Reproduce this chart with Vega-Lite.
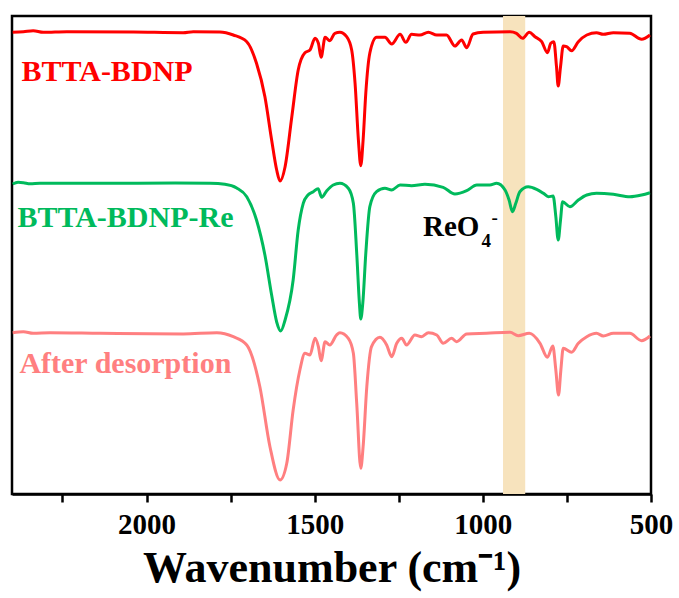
{
  "$schema": "https://vega.github.io/schema/vega-lite/v6.json",
  "width": 639,
  "height": 478,
  "autosize": "none",
  "padding": {"left": 12, "top": 16, "right": 28, "bottom": 104},
  "background": "white",
  "config": {
    "view": {"stroke": "black", "strokeWidth": 2.5},
    "axis": {"grid": false}
  },
  "datasets": {
    "spectra": [
      {"s":"BTTA-BDNP","wn":2398,"t":461.7},{"s":"BTTA-BDNP","wn":2366,"t":462.3},{"s":"BTTA-BDNP","wn":2337,"t":463.3},{"s":"BTTA-BDNP","wn":2307,"t":461.7},{"s":"BTTA-BDNP","wn":2237,"t":462.3},{"s":"BTTA-BDNP","wn":2039,"t":462},{"s":"BTTA-BDNP","wn":1891,"t":461.3},{"s":"BTTA-BDNP","wn":1861,"t":462.3},{"s":"BTTA-BDNP","wn":1782,"t":462},{"s":"BTTA-BDNP","wn":1742,"t":459},{"s":"BTTA-BDNP","wn":1702,"t":452.3},{"s":"BTTA-BDNP","wn":1673,"t":430.7},{"s":"BTTA-BDNP","wn":1648,"t":397.3},{"s":"BTTA-BDNP","wn":1628,"t":354},{"s":"BTTA-BDNP","wn":1613,"t":324},{"s":"BTTA-BDNP","wn":1603,"t":313},{"s":"BTTA-BDNP","wn":1588,"t":327.3},{"s":"BTTA-BDNP","wn":1568,"t":377.3},{"s":"BTTA-BDNP","wn":1549,"t":424},{"s":"BTTA-BDNP","wn":1529,"t":441.3},{"s":"BTTA-BDNP","wn":1514,"t":444},{"s":"BTTA-BDNP","wn":1499,"t":455.7},{"s":"BTTA-BDNP","wn":1489,"t":450.7},{"s":"BTTA-BDNP","wn":1481,"t":436.7},{"s":"BTTA-BDNP","wn":1469,"t":456.7},{"s":"BTTA-BDNP","wn":1455,"t":453.3},{"s":"BTTA-BDNP","wn":1440,"t":460.7},{"s":"BTTA-BDNP","wn":1425,"t":461.7},{"s":"BTTA-BDNP","wn":1405,"t":457.3},{"s":"BTTA-BDNP","wn":1390,"t":444},{"s":"BTTA-BDNP","wn":1380,"t":411},{"s":"BTTA-BDNP","wn":1370,"t":354},{"s":"BTTA-BDNP","wn":1363,"t":328.3},{"s":"BTTA-BDNP","wn":1356,"t":354},{"s":"BTTA-BDNP","wn":1348,"t":401},{"s":"BTTA-BDNP","wn":1336,"t":441},{"s":"BTTA-BDNP","wn":1316,"t":456.7},{"s":"BTTA-BDNP","wn":1291,"t":456.7},{"s":"BTTA-BDNP","wn":1271,"t":450},{"s":"BTTA-BDNP","wn":1246,"t":459.7},{"s":"BTTA-BDNP","wn":1229,"t":451.7},{"s":"BTTA-BDNP","wn":1212,"t":459.7},{"s":"BTTA-BDNP","wn":1187,"t":459},{"s":"BTTA-BDNP","wn":1162,"t":461.7},{"s":"BTTA-BDNP","wn":1137,"t":459},{"s":"BTTA-BDNP","wn":1108,"t":459},{"s":"BTTA-BDNP","wn":1083,"t":448},{"s":"BTTA-BDNP","wn":1063,"t":454},{"s":"BTTA-BDNP","wn":1048,"t":446.3},{"s":"BTTA-BDNP","wn":1029,"t":460},{"s":"BTTA-BDNP","wn":999,"t":461.7},{"s":"BTTA-BDNP","wn":919,"t":462.3},{"s":"BTTA-BDNP","wn":900,"t":460.7},{"s":"BTTA-BDNP","wn":882,"t":455.7},{"s":"BTTA-BDNP","wn":862,"t":461.7},{"s":"BTTA-BDNP","wn":845,"t":457.3},{"s":"BTTA-BDNP","wn":825,"t":452.3},{"s":"BTTA-BDNP","wn":808,"t":441.3},{"s":"BTTA-BDNP","wn":798,"t":450.7},{"s":"BTTA-BDNP","wn":789,"t":452.3},{"s":"BTTA-BDNP","wn":781,"t":427.3},{"s":"BTTA-BDNP","wn":776,"t":408},{"s":"BTTA-BDNP","wn":769,"t":427.3},{"s":"BTTA-BDNP","wn":761,"t":448},{"s":"BTTA-BDNP","wn":751,"t":447.3},{"s":"BTTA-BDNP","wn":736,"t":443.3},{"s":"BTTA-BDNP","wn":716,"t":452.3},{"s":"BTTA-BDNP","wn":691,"t":459},{"s":"BTTA-BDNP","wn":662,"t":461.3},{"s":"BTTA-BDNP","wn":642,"t":459.7},{"s":"BTTA-BDNP","wn":612,"t":461.3},{"s":"BTTA-BDNP","wn":563,"t":460.7},{"s":"BTTA-BDNP","wn":528,"t":454.7},{"s":"BTTA-BDNP","wn":503,"t":459},
      {"s":"BTTA-BDNP-Re","wn":2398,"t":310},{"s":"BTTA-BDNP-Re","wn":2382,"t":311.7},{"s":"BTTA-BDNP-Re","wn":2366,"t":311.3},{"s":"BTTA-BDNP-Re","wn":2346,"t":310.3},{"s":"BTTA-BDNP-Re","wn":2317,"t":310.7},{"s":"BTTA-BDNP-Re","wn":2138,"t":310.7},{"s":"BTTA-BDNP-Re","wn":1915,"t":311},{"s":"BTTA-BDNP-Re","wn":1811,"t":310.7},{"s":"BTTA-BDNP-Re","wn":1767,"t":309.7},{"s":"BTTA-BDNP-Re","wn":1732,"t":306},{"s":"BTTA-BDNP-Re","wn":1702,"t":297.3},{"s":"BTTA-BDNP-Re","wn":1673,"t":274},{"s":"BTTA-BDNP-Re","wn":1648,"t":239},{"s":"BTTA-BDNP-Re","wn":1628,"t":199},{"s":"BTTA-BDNP-Re","wn":1613,"t":172},{"s":"BTTA-BDNP-Re","wn":1601,"t":163},{"s":"BTTA-BDNP-Re","wn":1588,"t":174},{"s":"BTTA-BDNP-Re","wn":1564,"t":214},{"s":"BTTA-BDNP-Re","wn":1549,"t":264},{"s":"BTTA-BDNP-Re","wn":1534,"t":290.7},{"s":"BTTA-BDNP-Re","wn":1520,"t":299},{"s":"BTTA-BDNP-Re","wn":1504,"t":302.3},{"s":"BTTA-BDNP-Re","wn":1490,"t":305.3},{"s":"BTTA-BDNP-Re","wn":1479,"t":296.7},{"s":"BTTA-BDNP-Re","wn":1464,"t":303.3},{"s":"BTTA-BDNP-Re","wn":1445,"t":309},{"s":"BTTA-BDNP-Re","wn":1425,"t":310.7},{"s":"BTTA-BDNP-Re","wn":1400,"t":305.7},{"s":"BTTA-BDNP-Re","wn":1385,"t":290.7},{"s":"BTTA-BDNP-Re","wn":1375,"t":240.7},{"s":"BTTA-BDNP-Re","wn":1367,"t":190.7},{"s":"BTTA-BDNP-Re","wn":1363,"t":175},{"s":"BTTA-BDNP-Re","wn":1357,"t":190.7},{"s":"BTTA-BDNP-Re","wn":1348,"t":240.7},{"s":"BTTA-BDNP-Re","wn":1336,"t":287.3},{"s":"BTTA-BDNP-Re","wn":1316,"t":302.3},{"s":"BTTA-BDNP-Re","wn":1291,"t":305.7},{"s":"BTTA-BDNP-Re","wn":1271,"t":304},{"s":"BTTA-BDNP-Re","wn":1246,"t":309},{"s":"BTTA-BDNP-Re","wn":1212,"t":308.3},{"s":"BTTA-BDNP-Re","wn":1172,"t":309.7},{"s":"BTTA-BDNP-Re","wn":1118,"t":306.7},{"s":"BTTA-BDNP-Re","wn":1083,"t":300},{"s":"BTTA-BDNP-Re","wn":1048,"t":303.3},{"s":"BTTA-BDNP-Re","wn":1018,"t":309},{"s":"BTTA-BDNP-Re","wn":979,"t":309},{"s":"BTTA-BDNP-Re","wn":959,"t":310.7},{"s":"BTTA-BDNP-Re","wn":934,"t":304},{"s":"BTTA-BDNP-Re","wn":922,"t":294},{"s":"BTTA-BDNP-Re","wn":912,"t":282.3},{"s":"BTTA-BDNP-Re","wn":902,"t":290.7},{"s":"BTTA-BDNP-Re","wn":890,"t":302.3},{"s":"BTTA-BDNP-Re","wn":865,"t":307.3},{"s":"BTTA-BDNP-Re","wn":840,"t":304.7},{"s":"BTTA-BDNP-Re","wn":820,"t":300.7},{"s":"BTTA-BDNP-Re","wn":805,"t":297.3},{"s":"BTTA-BDNP-Re","wn":791,"t":298},{"s":"BTTA-BDNP-Re","wn":783,"t":277.3},{"s":"BTTA-BDNP-Re","wn":776,"t":254},{"s":"BTTA-BDNP-Re","wn":769,"t":274},{"s":"BTTA-BDNP-Re","wn":763,"t":292.3},{"s":"BTTA-BDNP-Re","wn":741,"t":287.3},{"s":"BTTA-BDNP-Re","wn":716,"t":294},{"s":"BTTA-BDNP-Re","wn":691,"t":299},{"s":"BTTA-BDNP-Re","wn":662,"t":300.7},{"s":"BTTA-BDNP-Re","wn":612,"t":299.7},{"s":"BTTA-BDNP-Re","wn":563,"t":297.3},{"s":"BTTA-BDNP-Re","wn":528,"t":299},{"s":"BTTA-BDNP-Re","wn":503,"t":301.3},
      {"s":"After desorption","wn":2398,"t":161.3},{"s":"After desorption","wn":2366,"t":162.3},{"s":"After desorption","wn":2337,"t":160.7},{"s":"After desorption","wn":2287,"t":161.3},{"s":"After desorption","wn":2138,"t":160.7},{"s":"After desorption","wn":1891,"t":160},{"s":"After desorption","wn":1791,"t":161.3},{"s":"After desorption","wn":1742,"t":157.3},{"s":"After desorption","wn":1702,"t":149},{"s":"After desorption","wn":1663,"t":107.3},{"s":"After desorption","wn":1633,"t":47.3},{"s":"After desorption","wn":1603,"t":14},{"s":"After desorption","wn":1583,"t":30.7},{"s":"After desorption","wn":1564,"t":84},{"s":"After desorption","wn":1544,"t":124},{"s":"After desorption","wn":1529,"t":140.7},{"s":"After desorption","wn":1514,"t":139},{"s":"After desorption","wn":1499,"t":155.7},{"s":"After desorption","wn":1489,"t":147.3},{"s":"After desorption","wn":1481,"t":133.3},{"s":"After desorption","wn":1469,"t":152.3},{"s":"After desorption","wn":1455,"t":149},{"s":"After desorption","wn":1435,"t":159},{"s":"After desorption","wn":1425,"t":161.3},{"s":"After desorption","wn":1400,"t":155.7},{"s":"After desorption","wn":1385,"t":140.7},{"s":"After desorption","wn":1375,"t":90.7},{"s":"After desorption","wn":1363,"t":25.7},{"s":"After desorption","wn":1356,"t":47.3},{"s":"After desorption","wn":1345,"t":107.3},{"s":"After desorption","wn":1331,"t":147.3},{"s":"After desorption","wn":1306,"t":156.7},{"s":"After desorption","wn":1286,"t":149},{"s":"After desorption","wn":1271,"t":137.3},{"s":"After desorption","wn":1256,"t":150.7},{"s":"After desorption","wn":1241,"t":155.7},{"s":"After desorption","wn":1227,"t":149},{"s":"After desorption","wn":1202,"t":159},{"s":"After desorption","wn":1182,"t":157.3},{"s":"After desorption","wn":1162,"t":161.3},{"s":"After desorption","wn":1137,"t":159},{"s":"After desorption","wn":1118,"t":150.7},{"s":"After desorption","wn":1093,"t":155.7},{"s":"After desorption","wn":1078,"t":152.3},{"s":"After desorption","wn":1048,"t":160},{"s":"After desorption","wn":989,"t":160.7},{"s":"After desorption","wn":919,"t":161.7},{"s":"After desorption","wn":895,"t":158.3},{"s":"After desorption","wn":862,"t":160.7},{"s":"After desorption","wn":830,"t":150.7},{"s":"After desorption","wn":808,"t":136.7},{"s":"After desorption","wn":792,"t":148},{"s":"After desorption","wn":783,"t":124},{"s":"After desorption","wn":775,"t":99},{"s":"After desorption","wn":768,"t":124},{"s":"After desorption","wn":761,"t":145.7},{"s":"After desorption","wn":736,"t":141.7},{"s":"After desorption","wn":716,"t":150.7},{"s":"After desorption","wn":691,"t":157.3},{"s":"After desorption","wn":662,"t":160.7},{"s":"After desorption","wn":642,"t":158},{"s":"After desorption","wn":612,"t":160.7},{"s":"After desorption","wn":563,"t":160.7},{"s":"After desorption","wn":528,"t":153.3},{"s":"After desorption","wn":503,"t":158}
    ],
    "names": [
      {"s":"BTTA-BDNP","wn":2372,"t":413},
      {"s":"BTTA-BDNP-Re","wn":2384,"t":267},
      {"s":"After desorption","wn":2378,"t":121}
    ],
    "band": [{"from":940,"to":874}],
    "ion": [
      {"part":"main","label":"ReO","wn":1178,"t":258},
      {"part":"sub","label":"4","wn":1004,"t":247},
      {"part":"sup","label":"-","wn":974,"t":270}
    ]
  },
  "layer": [
    {
      "data": {"name": "band"},
      "mark": {"type": "rect", "color": "#F7E3BD"},
      "encoding": {
        "x": {"field": "from", "type": "quantitative", "scale": {"domain": [500, 2400], "reverse": true, "nice": false, "zero": false}},
        "x2": {"field": "to"}
      }
    },
    {
      "data": {"name": "spectra"},
      "mark": {"type": "line", "strokeWidth": 3, "interpolate": "monotone"},
      "encoding": {
        "x": {
          "field": "wn", "type": "quantitative",
          "scale": {"domain": [500, 2400], "reverse": true, "nice": false, "zero": false},
          "axis": {
            "title": "Wavenumber (cm⁻¹)",
            "values": [2250, 2000, 1750, 1500, 1250, 1000, 750, 500],
            "labelExpr": "datum.value % 500 === 0 ? datum.label : ''",
            "format": "d",
            "labelFlush": false,
            "labelOverlap": false,
            "domainColor": "black", "domainWidth": 2.5,
            "tickColor": "black", "tickWidth": 2.5, "tickSize": 8,
            "labelFont": "Liberation Serif", "labelFontWeight": "bold", "labelFontSize": 29, "labelColor": "black", "labelPadding": 8,
            "titleFont": "Liberation Serif", "titleFontWeight": "bold", "titleFontSize": 44, "titleColor": "black", "titlePadding": 7
          }
        },
        "y": {"field": "t", "type": "quantitative", "scale": {"domain": [0, 478], "nice": false, "zero": false}, "axis": null},
        "color": {"field": "s", "type": "nominal", "scale": {"domain": ["BTTA-BDNP", "BTTA-BDNP-Re", "After desorption"], "range": ["#FF0000", "#00BA5C", "#FF7F80"]}, "legend": null},
        "detail": {"field": "s"}
      }
    },
    {
      "data": {"name": "names"},
      "mark": {"type": "text", "align": "left", "baseline": "alphabetic", "font": "Liberation Serif", "fontWeight": "bold", "fontSize": 30},
      "encoding": {
        "x": {"field": "wn", "type": "quantitative"},
        "y": {"field": "t", "type": "quantitative"},
        "text": {"field": "s"},
        "color": {"field": "s", "type": "nominal", "legend": null}
      }
    },
    {
      "data": {"name": "ion"},
      "transform": [{"filter": "datum.part === 'main'"}],
      "mark": {"type": "text", "align": "left", "baseline": "alphabetic", "font": "Liberation Serif", "fontWeight": "bold", "fontSize": 29, "color": "black"},
      "encoding": {
        "x": {"field": "wn", "type": "quantitative"},
        "y": {"field": "t", "type": "quantitative"},
        "text": {"field": "label"}
      }
    },
    {
      "data": {"name": "ion"},
      "transform": [{"filter": "datum.part !== 'main'"}],
      "mark": {"type": "text", "align": "left", "baseline": "alphabetic", "font": "Liberation Serif", "fontWeight": "bold", "fontSize": 19, "color": "black"},
      "encoding": {
        "x": {"field": "wn", "type": "quantitative"},
        "y": {"field": "t", "type": "quantitative"},
        "text": {"field": "label"}
      }
    }
  ]
}
